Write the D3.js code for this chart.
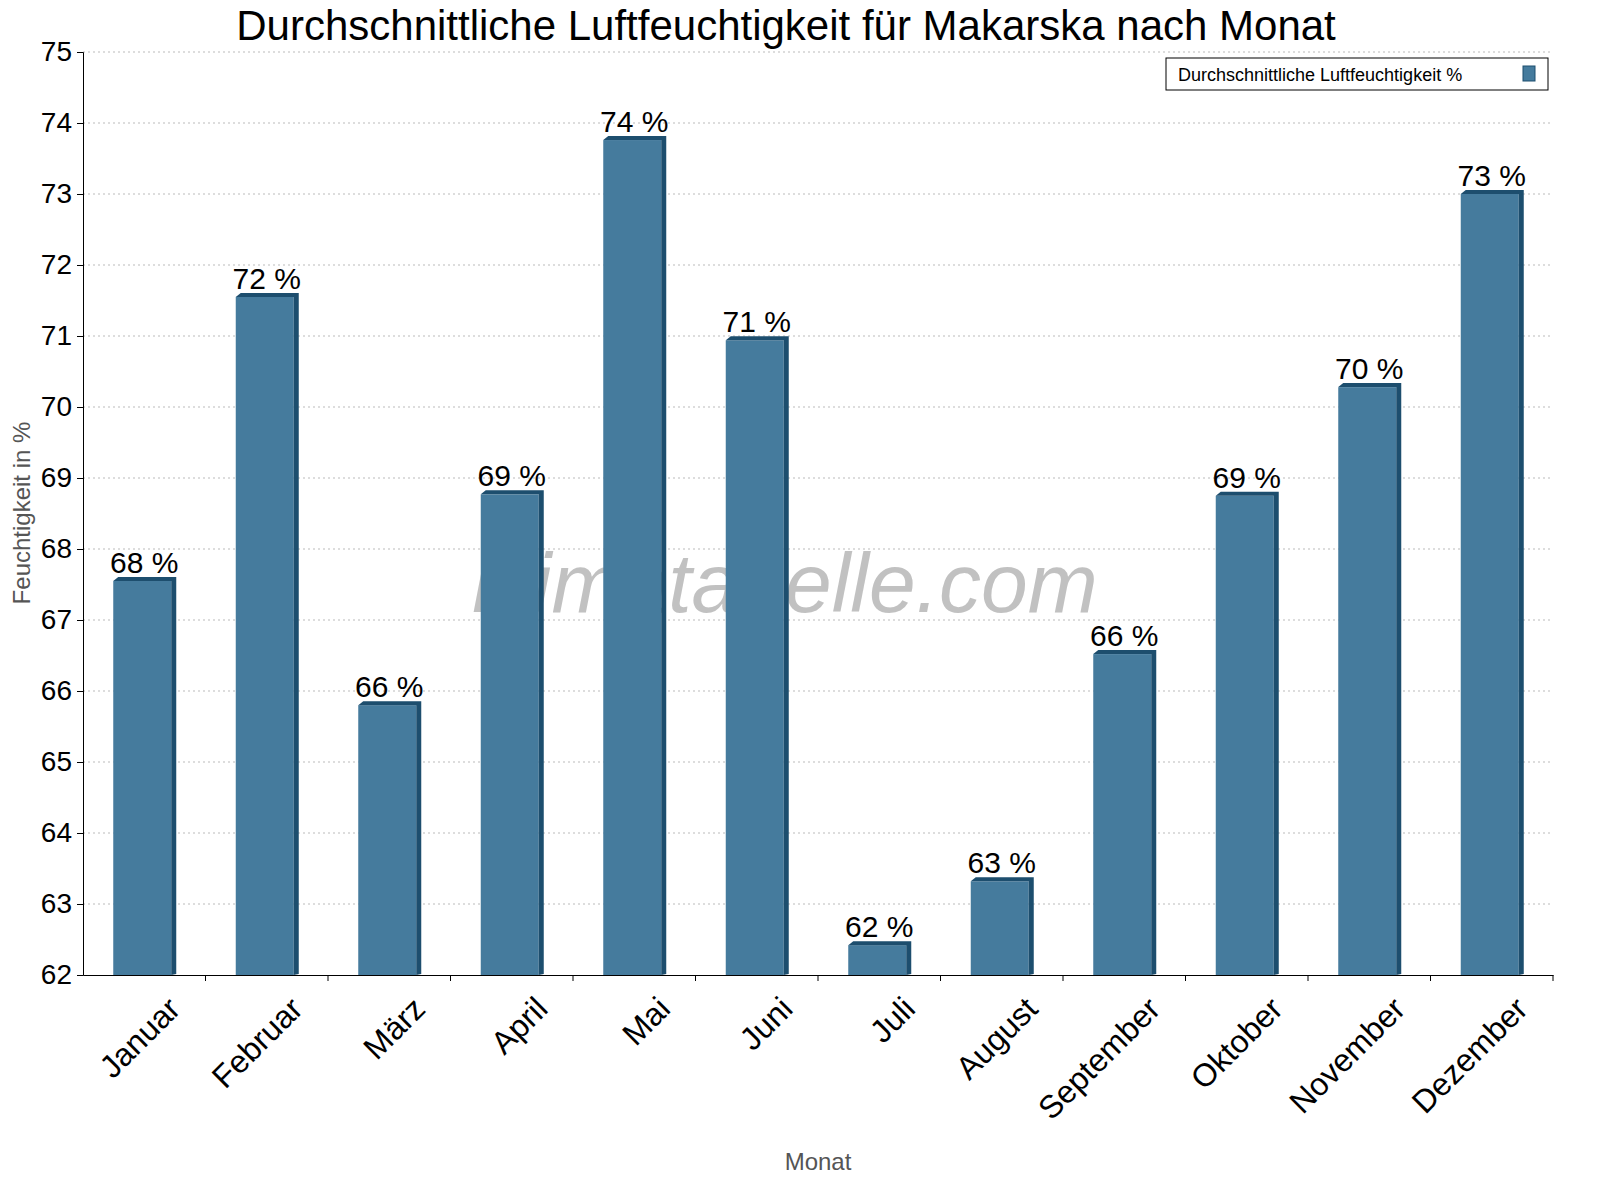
<!DOCTYPE html><html><head><meta charset="utf-8"><script src="https://d3js.org/d3.v7.min.js"></script>
<style>body{margin:0;background:#fff}</style></head><body><script>
const months=["Januar","Februar","März","April","Mai","Juni","Juli","August","September","Oktober","November","Dezember"];
const values=[67.55,71.55,65.8,68.77,73.76,70.94,62.42,63.32,66.52,68.75,70.28,73.0];
const labels=["68 %","72 %","66 %","69 %","74 %","71 %","62 %","63 %","66 %","69 %","70 %","73 %"];
const yTicks=d3.range(62,76);
(function(){
const W=1600,H=1200,L=83,R=1553,T=52,B=975;
const svg=d3.select("body").append("svg").attr("width",W).attr("height",H).style("font-family","Liberation Sans, Arial, sans-serif");
const x=d3.scaleBand().domain(months).range([L,R]);
const y=d3.scaleLinear().domain([62,75]).range([B,T]);
svg.append("g").selectAll("line").data(yTicks.slice(1)).join("line").attr("x1",L).attr("x2",R).attr("y1",d=>y(d)).attr("y2",d=>y(d)).attr("stroke","#bbb").attr("stroke-dasharray","2,3");
svg.append("text").attr("x",785).attr("y",612).attr("text-anchor","middle").attr("font-size",84).attr("font-style","italic").attr("fill","#999").attr("opacity",0.6).text("klimatabelle.com");
const bw=58,side=5,topH=4;
const g=svg.append("g");
months.forEach((m,i)=>{
 const cx=x(m)+x.bandwidth()/2, x0=cx-31, yv=y(values[i]);
 g.append("rect").attr("x",x0).attr("y",yv).attr("width",bw).attr("height",B-yv).attr("fill","#457b9d");
 g.append("path").attr("d",`M${x0},${yv} L${x0+side},${yv-topH} L${x0+bw+side},${yv-topH} L${x0+bw+side},${B-1} L${x0+bw},${B} L${x0+bw},${yv} Z`).attr("fill","#1d4e6e");
 g.append("text").attr("x",cx).attr("y",yv-8).attr("text-anchor","middle").attr("font-size",30).text(labels[i]);
});
const ya=svg.append("g").attr("transform",`translate(${L},0)`).call(d3.axisLeft(y).tickValues(yTicks).tickFormat(d3.format("d")).tickSize(6));
ya.selectAll("text").attr("font-size",28).attr("fill","#000").attr("dx",-2);
const xa=svg.append("g").attr("transform",`translate(0,${B})`).call(d3.axisBottom(x).tickSize(0).tickFormat(""));
xa.append("g").selectAll("line").data(d3.range(1,13)).join("line").attr("x1",i=>L+i*x.bandwidth()).attr("x2",i=>L+i*x.bandwidth()).attr("y1",0).attr("y2",6).attr("stroke","#000");
svg.selectAll(".domain").attr("stroke","#000");
svg.append("g").selectAll("text").data(months).join("text").attr("font-size",32)
 .attr("transform",d=>`translate(${x(d)+x.bandwidth()/2+22},${B+20}) rotate(-45)`).attr("text-anchor","end").attr("dy","0.7em").text(d=>d);
svg.append("text").attr("x",786).attr("y",40).attr("text-anchor","middle").attr("font-size",42).text("Durchschnittliche Luftfeuchtigkeit für Makarska nach Monat");
svg.append("text").attr("transform","translate(30,513) rotate(-90)").attr("text-anchor","middle").attr("font-size",24).attr("fill","#555").text("Feuchtigkeit in %");
svg.append("text").attr("x",818).attr("y",1170).attr("text-anchor","middle").attr("font-size",24).attr("fill","#555").text("Monat");
svg.append("rect").attr("x",1166).attr("y",58).attr("width",382).attr("height",32).attr("fill","#fff").attr("stroke","#000");
svg.append("text").attr("x",1178).attr("y",81).attr("font-size",18).text("Durchschnittliche Luftfeuchtigkeit %");
svg.append("rect").attr("x",1523).attr("y",66).attr("width",12).attr("height",15).attr("fill","#457b9d").attr("stroke","#1d4e6e");
})();
</script></body></html>
